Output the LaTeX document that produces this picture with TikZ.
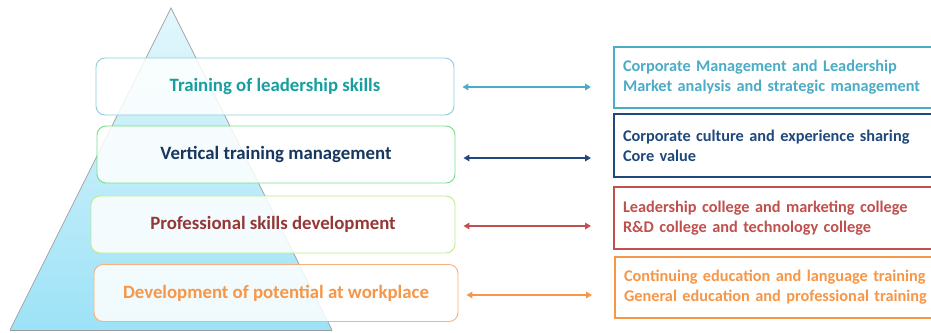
\documentclass[tikz,border=0pt]{standalone}
\usepackage{fontspec}
\setmainfont{Carlito}
\usetikzlibrary{arrows.meta}
\definecolor{triTop}{HTML}{E2F7FC}
\definecolor{triBot}{HTML}{9DE2F7}
\definecolor{bA}{HTML}{8CCDE0}
\definecolor{bB}{HTML}{77DD88}
\definecolor{bC}{HTML}{C0EC8C}
\definecolor{bD}{HTML}{FAB07A}
\definecolor{tA}{HTML}{179F9F}
\definecolor{tB}{HTML}{17375E}
\definecolor{tC}{HTML}{953735}
\definecolor{tD}{HTML}{F79646}
\definecolor{rA}{HTML}{4BACC6}
\definecolor{rB}{HTML}{1F497D}
\definecolor{rC}{HTML}{C0504D}
\definecolor{rD}{HTML}{F79646}
\tikzset{
  lbox/.style={draw, line width=0.9pt, rounded corners=9pt, fill=white, fill opacity=0.85, text opacity=1,
    minimum height=57pt, inner sep=0pt, font=\bfseries\fontsize{18.8}{22}\selectfont},
  rbox/.style={draw, line width=2pt, anchor=west, minimum height=61pt, text width=314pt,
    inner xsep=9pt, align=left, font=\bfseries\fontsize{16.3}{20}\selectfont},
  biarrow/.style={line width=2pt, {Triangle[length=6pt,width=6.5pt]}-{Triangle[length=6pt,width=6.5pt]},
    shorten <=8pt, shorten >=22pt}
}
\begin{document}
\begin{tikzpicture}[x=1pt,y=-1pt]
\clip (0,0) rectangle (931,332);
\fill[white] (0,0) rectangle (931,332);
\shade[top color=triTop, bottom color=triBot] (171,8) -- (332,330) -- (10,330) -- cycle;
\draw[gray!70, line width=0.8pt] (332,330) -- (171,8) -- (10,330);
\draw[gray!80, line width=1.2pt] (10,330.5) -- (332,330.5);

\node[lbox, draw=bA, text=tA, minimum width=358pt] (L1) at (275,86.5) {Training of leadership skills};
\node[lbox, draw=bB, text=tB, minimum width=358pt] (L2) at (276,154.5) {Vertical training management};
\node[lbox, draw=bC, text=tC, minimum width=364pt] (L3) at (273,224.5) {Professional skills development};
\node[lbox, draw=bD, text=tD, minimum width=364pt] (L4) at (276,293) {Development of potential at workplace};

\node[rbox, draw=rA, text=rA] (R1) at (613,77.5) {Corporate Management and Leadership\\Market analysis and strategic management};
\node[rbox, draw=rB, text=rB, minimum height=63pt] (R2) at (613,145.5) {Corporate culture and experience sharing\\Core value};
\node[rbox, draw=rC, text=rC, minimum height=62pt] (R3) at (613,218) {Leadership college and marketing college\\R\&D college and technology college};
\node[rbox, draw=rD, text=rD] (R4) at (614,287.5) {Continuing education and language training\\General education and professional training};

\draw[biarrow, rA] ([yshift=-0.5pt]L1.east) -- ([yshift=-0.5pt]L1.east -| R1.west);
\draw[biarrow, rB] ([yshift=-3.5pt]L2.east) -- ([yshift=-3.5pt]L2.east -| R2.west);
\draw[biarrow, rC] ([yshift=-1.5pt]L3.east) -- ([yshift=-1.5pt]L3.east -| R3.west);
\draw[biarrow, rD] ([yshift=-2pt]L4.east) -- ([yshift=-2pt]L4.east -| R4.west);
\end{tikzpicture}
\end{document}
